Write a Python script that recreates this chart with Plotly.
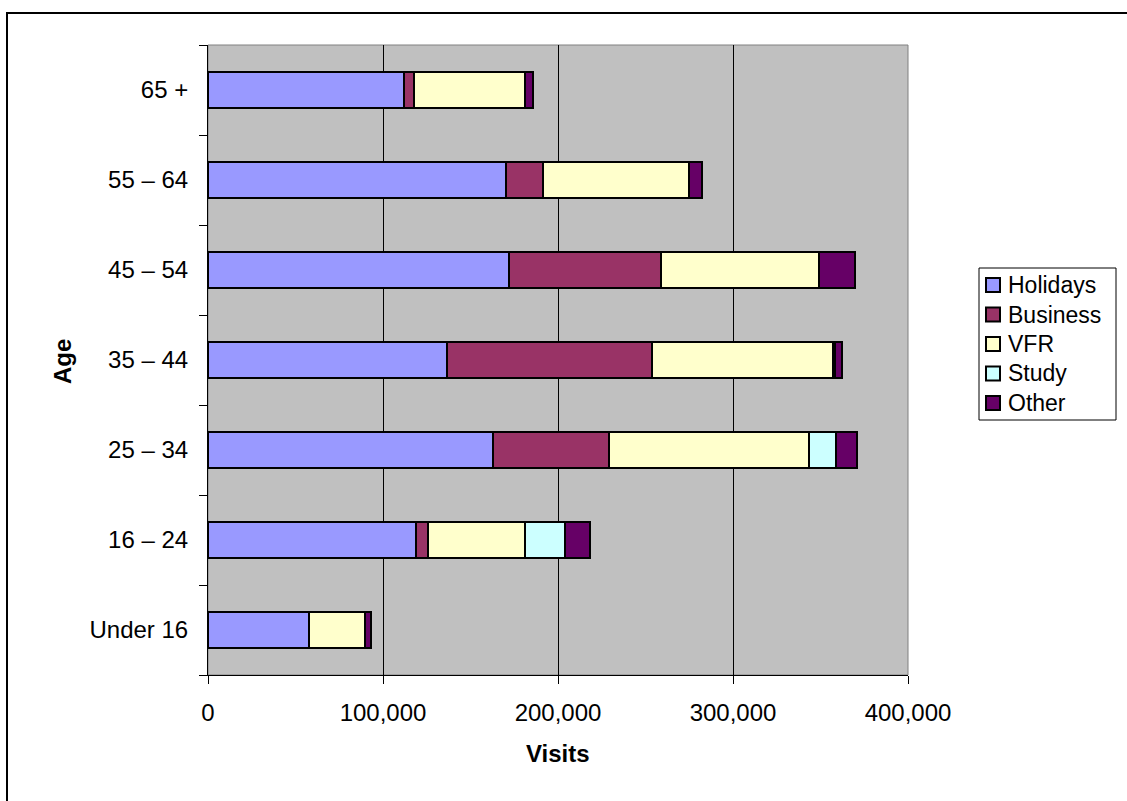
import plotly.graph_objects as go

ages = ["Under 16", "16 – 24", "25 – 34", "35 – 44", "45 – 54", "55 – 64", "65 +"]
holidays = [57600, 118700, 162700, 136800, 171900, 170400, 112000]
business = [0, 7200, 66500, 117100, 86900, 21300, 5700]
vfr = [32200, 55500, 114400, 103100, 90100, 82900, 63500]
study = [0, 22800, 15000, 1400, 0, 0, 0]
other = [3400, 14300, 12000, 4000, 20600, 7600, 4400]

series = [
    ("Holidays", holidays, "#9999FF"),
    ("Business", business, "#993366"),
    ("VFR", vfr, "#FFFFCC"),
    ("Study", study, "#CCFFFF"),
    ("Other", other, "#660066"),
]

FONT = "Arial, Liberation Sans, sans-serif"

fig = go.Figure()
for name, vals, col in series:
    fig.add_trace(go.Bar(
        y=ages, x=vals, name=name, orientation="h",
        marker=dict(color=col, line=dict(color="black", width=2)),
        showlegend=False,
    ))

W, H = 1127, 801
L, R, T, B = 208, 908, 45, 675


def px_x(px):
    return (px - L) / (R - L)


def px_y(py):
    return (B - py) / (B - T)


shapes = [
    dict(type="rect", xref="paper", yref="paper", x0=0, x1=1, y0=0, y1=1,
         line=dict(color="#808080", width=1), layer="below"),
    dict(type="rect", xref="paper", yref="paper",
         x0=px_x(7), x1=3, y0=-3, y1=px_y(13),
         line=dict(color="black", width=2)),
    # legend box
    dict(type="rect", xref="paper", yref="paper",
         x0=px_x(979), x1=px_x(1116), y0=px_y(420), y1=px_y(268),
         line=dict(color="black", width=1), fillcolor="white"),
]
annotations = [
    dict(text="<b>Visits</b>", xref="paper", yref="paper",
         x=px_x(558), y=px_y(753),
         showarrow=False, font=dict(family=FONT, size=24),
         xanchor="center", yanchor="middle"),
    dict(text="<b>Age</b>", xref="paper", yref="paper",
         x=px_x(62), y=px_y(362),
         showarrow=False, textangle=-90, font=dict(family=FONT, size=24),
         xanchor="center", yanchor="middle"),
]

# legend entries
for i, (name, vals, col) in enumerate(series):
    cy = 285 + 29.5 * i
    shapes.append(dict(type="rect", xref="paper", yref="paper",
                       x0=px_x(986), x1=px_x(1000), y0=px_y(cy + 7), y1=px_y(cy - 7),
                       line=dict(color="black", width=2), fillcolor=col))
    annotations.append(dict(text=name, xref="paper", yref="paper",
                            x=px_x(1006), y=px_y(cy), showarrow=False,
                            xanchor="left", yanchor="middle",
                            font=dict(family=FONT, size=23)))

fig.update_layout(
    width=W, height=H,
    margin=dict(l=L, r=W - R, t=T, b=H - B, autoexpand=False),
    barmode="stack", bargap=0.6,
    plot_bgcolor="#C0C0C0", paper_bgcolor="white",
    font=dict(family=FONT, size=24, color="black"),
    showlegend=False,
    xaxis=dict(
        range=[0, 400000], tickvals=[0, 100000, 200000, 300000, 400000],
        tickformat=",d", showgrid=True, gridcolor="black", gridwidth=1,
        zeroline=False, showline=True, linecolor="black", linewidth=1,
        ticks="outside", ticklen=8, tickcolor="black",
        tickfont=dict(family=FONT, size=24), ticklabelstandoff=8,
    ),
    yaxis=dict(
        categoryorder="array", categoryarray=ages,
        showgrid=False, zeroline=False, showline=True, linecolor="black", linewidth=1,
        ticks="outside", tickson="boundaries", ticklen=8, tickcolor="black",
        tickfont=dict(family=FONT, size=24), ticklabelstandoff=14,
    ),
    shapes=shapes,
    annotations=annotations,
)

fig.write_html("out.html")
